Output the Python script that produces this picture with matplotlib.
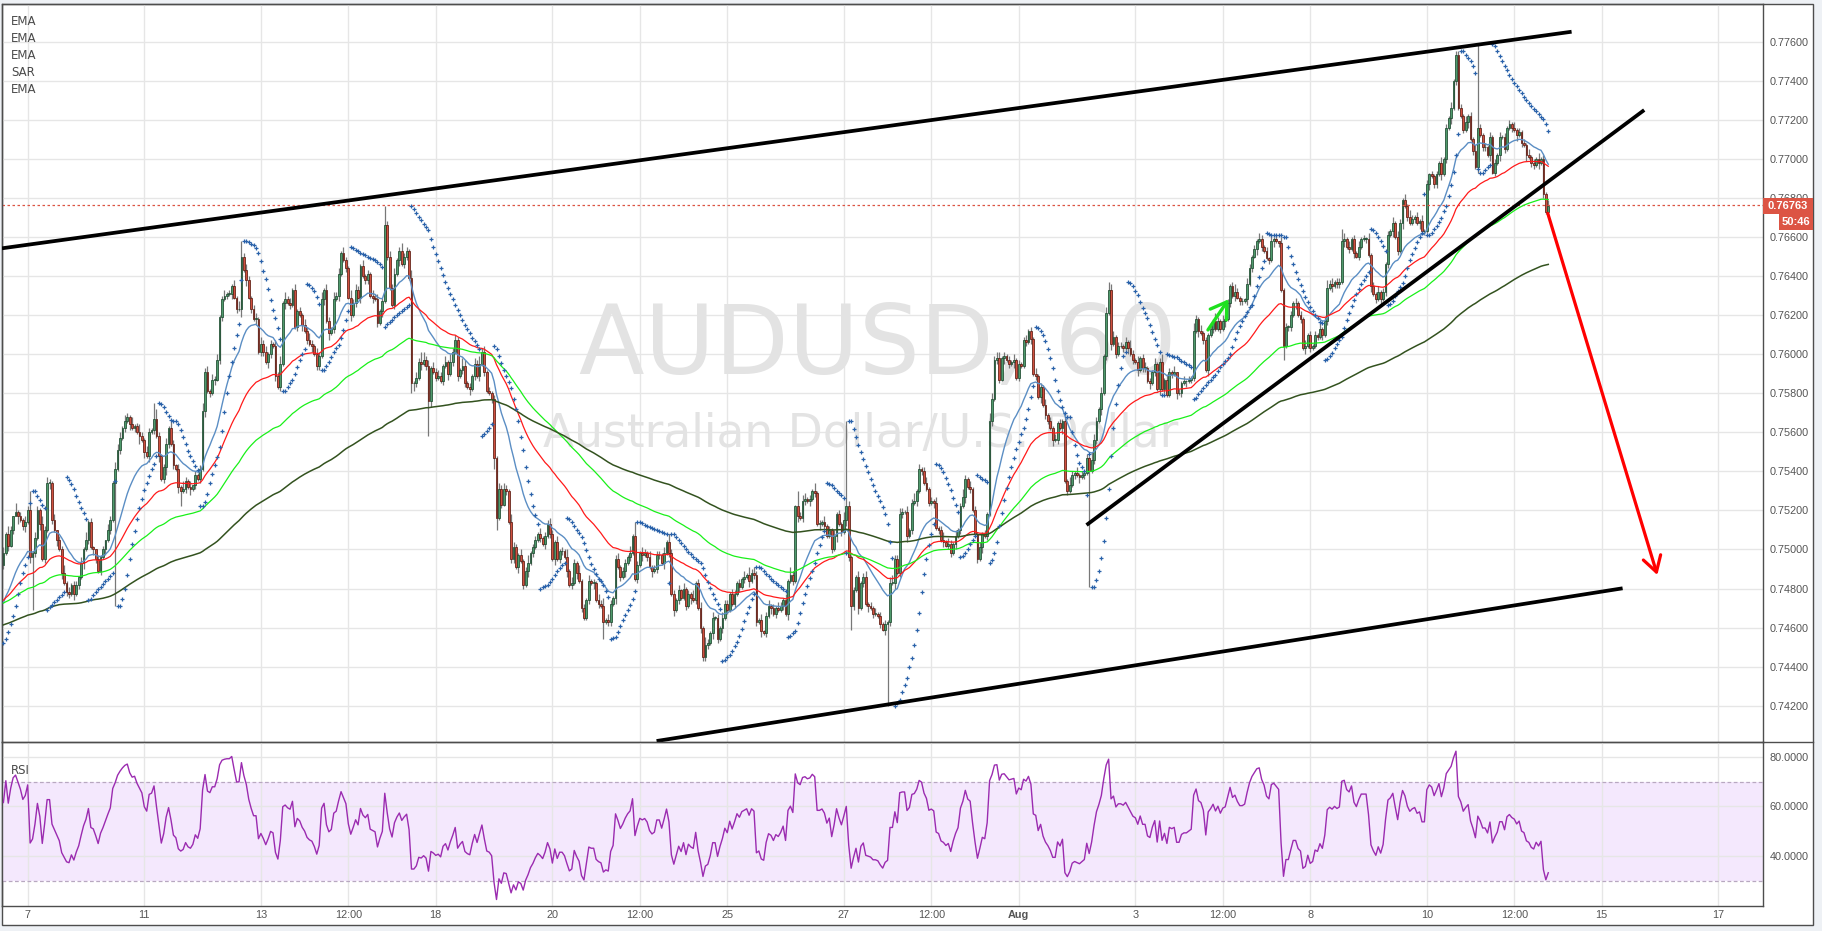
import numpy as np
import matplotlib
matplotlib.use("Agg")
import matplotlib.pyplot as plt
from matplotlib.patches import Rectangle
from matplotlib.lines import Line2D

# ---------------------------------------------------------------- data
# hourly AUDUSD candles, index 0 = Jul 7 00:00 (weekends removed), prices in pips
FIRST_INDEX = -10
FIRST_OPEN = 7492
CLOSE_ROWS = [
    "7498 7508 7502 7510 7517 7519 7517 7515 7512 7514",  # -10
    "7520 7496 7498 7506 7520 7513 7495 7510 7534 7534",  # 0
    "7515 7510 7505 7500 7488 7483 7478 7477 7482 7477",
    "7482 7486 7493 7500 7505 7514 7501 7500 7495 7489",
    "7496 7500 7505 7510 7515 7534 7541 7551 7557 7562",
    "7566 7568 7564 7562 7563 7560 7558 7556 7550 7548",
    "7560 7561 7567 7558 7548 7536 7542 7554 7562 7554",  # 50
    "7543 7541 7532 7530 7531 7535 7532 7531 7533 7538",
    "7536 7541 7571 7591 7581 7580 7587 7587 7597 7619",
    "7628 7630 7631 7631 7635 7629 7623 7623 7650 7643",
    "7638 7629 7623 7618 7618 7601 7605 7601 7596 7600",
    "7605 7604 7589 7583 7595 7626 7628 7626 7625 7633",  # 100
    "7614 7622 7620 7615 7612 7607 7605 7604 7600 7594",
    "7599 7628 7633 7617 7611 7613 7628 7630 7641 7652",
    "7648 7644 7629 7620 7626 7633 7629 7645 7640 7638",
    "7641 7630 7629 7628 7616 7622 7627 7666 7650 7634",
    "7625 7641 7648 7653 7646 7650 7653 7639 7585 7585",  # 150
    "7588 7596 7595 7597 7594 7576 7593 7591 7588 7589",
    "7586 7594 7596 7590 7596 7601 7607 7589 7592 7594",
    "7585 7583 7582 7589 7595 7589 7595 7601 7591 7581",
    "7580 7577 7547 7516 7531 7523 7531 7530 7514 7495",
    "7501 7491 7497 7494 7482 7489 7493 7498 7501 7505",  # 200
    "7508 7506 7503 7507 7513 7508 7495 7504 7495 7499",
    "7499 7496 7489 7482 7483 7493 7488 7484 7470 7465",
    "7474 7484 7483 7483 7474 7472 7471 7463 7464 7463",
    "7472 7475 7495 7491 7486 7489 7493 7496 7498 7507",
    "7485 7492 7498 7497 7498 7496 7491 7489 7490 7497",  # 250
    "7497 7493 7498 7504 7498 7477 7469 7474 7479 7475",
    "7480 7471 7477 7475 7474 7483 7470 7460 7445 7451",
    "7452 7457 7465 7465 7454 7460 7465 7472 7469 7477",
    "7472 7477 7483 7481 7485 7486 7487 7484 7488 7487",
    "7463 7464 7458 7457 7466 7471 7470 7467 7470 7469",  # 300
    "7471 7474 7467 7484 7487 7484 7522 7517 7516 7525",
    "7526 7525 7526 7530 7529 7513 7513 7514 7512 7507",
    "7510 7500 7507 7518 7513 7509 7515 7522 7496 7471",
    "7479 7486 7470 7483 7486 7472 7471 7470 7467 7467",
    "7466 7462 7459 7462 7463 7483 7483 7495 7488 7518",  # 350
    "7519 7519 7507 7510 7524 7525 7530 7541 7540 7534",
    "7531 7524 7525 7524 7511 7510 7505 7504 7502 7503",
    "7498 7503 7507 7510 7522 7527 7536 7532 7531 7520",
    "7508 7495 7501 7508 7507 7518 7566 7577 7597 7598",
    "7587 7598 7599 7597 7595 7596 7597 7588 7595 7594",  # 400
    "7607 7606 7612 7608 7590 7589 7578 7583 7574 7569",
    "7566 7562 7556 7556 7565 7562 7566 7535 7530 7533",
    "7538 7539 7538 7537 7538 7539 7547 7540 7546 7556",
    "7566 7572 7580 7599 7621 7633 7605 7609 7600 7604",
    "7604 7603 7606 7603 7600 7597 7596 7592 7598 7593",  # 450
    "7593 7586 7585 7591 7595 7582 7596 7582 7587 7579",
    "7591 7590 7591 7580 7580 7585 7586 7586 7587 7588",
    "7612 7618 7612 7611 7607 7592 7610 7613 7617 7613",
    "7617 7613 7617 7618 7626 7635 7630 7632 7629 7627",
    "7627 7628 7636 7644 7650 7654 7658 7659 7655 7653",  # 500
    "7649 7648 7658 7659 7658 7657 7633 7604 7614 7614",
    "7620 7626 7626 7620 7618 7603 7604 7610 7603 7604",
    "7610 7609 7613 7610 7617 7634 7636 7635 7637 7636",
    "7637 7658 7659 7655 7654 7659 7652 7650 7655 7659",
    "7659 7659 7651 7635 7631 7628 7632 7628 7632 7646",  # 550
    "7661 7663 7667 7660 7653 7667 7679 7676 7670 7667",
    "7669 7670 7667 7668 7663 7663 7687 7692 7691 7687",
    "7692 7698 7692 7700 7716 7721 7726 7740 7753 7726",
    "7722 7715 7719 7722 7710 7704 7696 7716 7712 7706",
    "7706 7702 7711 7693 7698 7702 7711 7711 7705 7716",  # 600
    "7718 7716 7715 7712 7714 7708 7707 7702 7701 7698",
    "7697 7700 7698 7700 7682 7673 7676",                 # 620
]
# wick lengths in pips (base-36 digit per candle), same row layout as closes
UPPER_WICK_ROWS = [
    "3142051213", "2a13214232", "1302241312", "2031412102", "1203214331",
    "3214124213", "2185212314", "2131421302", "1242313231", "2312131482",
    "3212314231", "2132414231", "3121324213", "2413214231", "3214232131",
    "2132312a23", "2312422141", "3254231323", "2131423214", "3121324231",
    "2121323214", "3213124122", "1312232131", "2141321412", "1312132413",
    "2123122141", "7213213122", "2131422131", "3121412314", "2131213221",
    "3212131423", "2131231213", "2131421823", "3121412131", "2131214331",
    "2131231213", "1212134223", "2131241312", "3121312413", "2131242131",
    "2131214323", "3121213121", "2312131213", "1213121214", "2131212143",
    "2131343312", "2131421312", "3121312413", "2130213121", "4213121314",
    "2131212421", "2132121321", "2131203121", "2131213121", "2131242312",
    "2631312131", "2131213121", "2131321314", "2131312121", "2131213122",
    "2131213121", "2131213121", "2131212131", "2131213",
]
LOWER_WICK_ROWS = [
    "2131204123", "13r2131213", "2131312213", "1213121321", "2131213121",
    "2131214131", "3121312421", "2138121312", "1213121312", "2121312141",
    "3121312213", "2131213121", "1213121312", "2131412131", "1213121312",
    "2131213121", "1213122154", "21312i3121", "1213121312", "2131213121",
    "1266121212", "2131213121", "1213121312", "2131213121", "1213121912",
    "2131213121", "1213121312", "2131213121", "1213121322", "2131213121",
    "1213121312", "2131213121", "1213121312", "2131213121", "121312132c",
    "2131213121", "1213121312", "2131213121", "1213121312", "2131213121",
    "1213121312", "2131213121", "1213121312", "2131213121", "1213121312",
    "2131213121", "1213121312", "2131213121", "1213121312", "2131213121",
    "1213121312", "2131213121", "1213121712", "2131213121", "1213121312",
    "2131213121", "1213121312", "2131213121", "1213121312", "2131213121",
    "1213121312", "2131213121", "1213121312", "2131213",
]
HIGH_FIX = {147: 7676, 337: 7566, 597: 7759}
LOW_FIX = {36: 7471, 354: 7420, 437: 7481}

# indicator settings / starting values read at the left edge (pips)
EMA_SPECS = [(20, 7470, "#5b8ec4", 1.0),
             (50, 7473, "#ff1a1a", 0.9),
             (100, 7472, "#19f019", 0.9),
             (200, 7461, "#33521f", 1.1)]
SAR_SEED = (7452, 7508, 0.04, True)     # sar, extreme point, accel, uptrend
RSI_SEED = (1.6, 1.0)                   # avg gain, avg loss

TICK_POS = [0, 48, 96, 132, 168, 216, 252, 288, 336, 372, 408, 456, 492, 528, 576, 612, 648, 696]
TICK_LABELS = ["7", "11", "13", "12:00", "18", "20", "12:00", "25", "27", "12:00",
               "Aug", "3", "12:00", "8", "10", "12:00", "15", "17"]
PRICE_TICKS = [0.742, 0.744, 0.746, 0.748, 0.750, 0.752, 0.754, 0.756, 0.758,
               0.760, 0.762, 0.764, 0.766, 0.768, 0.770, 0.772, 0.774, 0.776]
RSI_TICKS = [40, 60, 80]
LAST_PRICE = 0.76763
COUNTDOWN = "50:46"

UPPER_CHANNEL = [(-10.6, 0.76542), (635.6, 0.77651)]
LOWER_CHANNEL = [(258.9, 0.74019), (656.6, 0.74801)]
SUPPORT_LINE = [(435.9, 0.75125), (665.5, 0.77250)]
RED_ARROW = [(625.8, 0.76721), (670.9, 0.74869)]
GREEN_ARROW = [(485.9, 0.76124), (494.4, 0.76281)]
LEGEND_NAMES = ["EMA", "EMA", "EMA", "SAR", "EMA"]

# ---------------------------------------------------------------- build series
closes = np.array([int(v) for row in CLOSE_ROWS for v in row.split()], dtype=float)
n = len(closes)
idx = np.arange(FIRST_INDEX, FIRST_INDEX + n)
opens = np.empty(n)
opens[0] = FIRST_OPEN
opens[1:] = closes[:-1]
uw = np.array([int(ch, 36) for ch in "".join(UPPER_WICK_ROWS)], dtype=float)[:n]
lw = np.array([int(ch, 36) for ch in "".join(LOWER_WICK_ROWS)], dtype=float)[:n]
highs = np.maximum(opens, closes) + uw
lows = np.minimum(opens, closes) - lw
for k, v in HIGH_FIX.items():
    highs[k - FIRST_INDEX] = v
for k, v in LOW_FIX.items():
    lows[k - FIRST_INDEX] = v


def ema(vals, length, seed):
    a = 2.0 / (length + 1)
    out = np.empty(len(vals))
    prev = seed
    for k, v in enumerate(vals):
        prev = prev + a * (v - prev)
        out[k] = prev
    return out


def psar(hi, lo, seed, step=0.02, amax=0.2):
    sar, ep, af, up = seed
    out = np.empty(len(hi))
    for k in range(len(hi)):
        if k > 0:
            sar = sar + af * (ep - sar)
            if up:
                sar = min(sar, lo[k - 1], lo[max(k - 2, 0)])
                if lo[k] < sar:
                    up, sar, ep, af = False, ep, lo[k], step
                elif hi[k] > ep:
                    ep, af = hi[k], min(af + step, amax)
            else:
                sar = max(sar, hi[k - 1], hi[max(k - 2, 0)])
                if hi[k] > sar:
                    up, sar, ep, af = True, ep, hi[k], step
                elif lo[k] < ep:
                    ep, af = lo[k], min(af + step, amax)
        out[k] = sar
    return out


def rsi(vals, seed, length=14):
    g, l = seed
    out = np.empty(len(vals))
    out[0] = 100 - 100 / (1 + g / l)
    for k in range(1, len(vals)):
        d = vals[k] - vals[k - 1]
        g = (g * (length - 1) + max(d, 0)) / length
        l = (l * (length - 1) + max(-d, 0)) / length
        out[k] = 100 - 100 / (1 + g / l) if l > 0 else 100
    return out


P = 1e-4
sar_vals = psar(highs, lows, SAR_SEED)
rsi_vals = rsi(closes, RSI_SEED)

# ---------------------------------------------------------------- figure
W, H = 1822, 931
plt.rcParams["font.family"] = ["Liberation Sans", "DejaVu Sans"]
fig = plt.figure(figsize=(W / 100, H / 100), dpi=100)
fig.patch.set_facecolor("#eef1f5")


def fx(px):
    return px / W


def fy(py):
    return 1 - py / H


fig.add_artist(Rectangle((fx(2), fy(925)), (1813 - 2) / W, (925 - 4) / H,
                         transform=fig.transFigure, facecolor="white",
                         edgecolor="#4d4d4d", lw=1.0, zorder=-5))
fig.add_artist(Line2D([fx(1763), fx(1813)], [fy(742), fy(742)],
                      transform=fig.transFigure, color="#4d4d4d", lw=1.0, zorder=5))

ax = fig.add_axes([fx(2), fy(742), (1763 - 2) / W, (742 - 4) / H])
axr = fig.add_axes([fx(2), fy(906), (1763 - 2) / W, (906 - 742) / H])
XLIM = (-10.58, 714.4)
for a in (ax, axr):
    a.set_xlim(*XLIM)
    a.set_facecolor("none")
    for s in a.spines.values():
        s.set_color("#4d4d4d")
        s.set_linewidth(1.0)
    a.set_axisbelow(True)
    a.grid(True, color="#e6e6e6", lw=1.0)
    a.set_xticks(TICK_POS)
    a.yaxis.tick_right()
    a.tick_params(length=0, labelsize=7.8, labelcolor="#555555")

ax.set_ylim(0.74014, 0.77793)
ax.set_yticks(PRICE_TICKS)
ax.set_yticklabels([f"{v:.5f}" for v in PRICE_TICKS])
ax.tick_params(axis="y", pad=5)
ax.set_xticklabels([])

# watermark
ax.text(0.4975, 0.4986, "AUDUSD, 60", transform=ax.transAxes, ha="center", va="baseline",
        fontsize=69, color="#e3e3e3", family="DejaVu Sans", zorder=0.6)
ax.text(0.4875, 0.4001, "Australian Dollar/U.S. Dollar", transform=ax.transAxes,
        ha="center", va="baseline", fontsize=32.8, color="#e3e3e3",
        family="DejaVu Sans", zorder=0.6)

# candles
up = closes >= opens
ax.vlines(idx, lows * P, highs * P, color="#787878", lw=0.9, zorder=2)
body_lo = np.minimum(opens, closes) * P
body_h = np.maximum(np.abs(closes - opens), 0.3) * P
ax.bar(idx, body_h, bottom=body_lo, width=0.74,
       color=["#4f9a6c" if u else "#d0503f" for u in up],
       edgecolor=["#1d4a2f" if u else "#5c1c12" for u in up],
       linewidth=0.55, zorder=2.1)

# EMAs
for length, seed, col, lwid in EMA_SPECS:
    ax.plot(idx, ema(closes, length, seed) * P, color=col, lw=lwid, zorder=3)

# SAR
ax.plot(idx, sar_vals * P, ls="none", marker="+", ms=3.0, mew=0.9,
        color="#2a62aa", zorder=3.5)

# last price line
ax.axhline(LAST_PRICE, color="#dc5444", lw=0.9, ls=(0, (2, 2)), zorder=2.5)

# drawings
for (x0, y0), (x1, y1) in (UPPER_CHANNEL, LOWER_CHANNEL, SUPPORT_LINE):
    ax.plot([x0, x1], [y0, y1], color="black", lw=2.7, solid_capstyle="butt", zorder=6)
ax.annotate("", xy=RED_ARROW[1], xytext=RED_ARROW[0],
            arrowprops=dict(arrowstyle="->,head_length=1.1,head_width=0.65",
                            color="#ff0000", lw=2.3, shrinkA=0, shrinkB=0,
                            mutation_scale=10), zorder=7)
ax.annotate("", xy=GREEN_ARROW[1], xytext=GREEN_ARROW[0],
            arrowprops=dict(arrowstyle="->,head_length=1.1,head_width=0.7",
                            color="#1fe01f", lw=2.4, shrinkA=0, shrinkB=0,
                            mutation_scale=10), zorder=7)

# RSI pane
axr.set_ylim(19.9, 85.9)
axr.set_yticks(RSI_TICKS)
axr.set_yticklabels([f"{v:.4f}" for v in RSI_TICKS])
axr.tick_params(axis="y", pad=5)
axr.axhspan(30, 70, color="#f4e8fd", zorder=0.3, lw=0)
for lvl in (30, 70):
    axr.axhline(lvl, color="#b8a8c0", lw=0.9, ls=(0, (3, 2)), zorder=1)
axr.plot(idx, rsi_vals, color="#9b2bb0", lw=1.0, zorder=3)
axr.set_xticklabels(TICK_LABELS)
axr.tick_params(axis="x", pad=3)
for lab in axr.get_xticklabels():
    if lab.get_text() == "Aug":
        lab.set_fontweight("bold")

# legends
for k, name in enumerate(LEGEND_NAMES):
    fig.text(fx(11), fy(21.7 + 17 * k), name, fontsize=8.5, color="#4a4a4a",
             ha="left", va="center", family="DejaVu Sans")
fig.text(fx(11), fy(770), "RSI", fontsize=8.5, color="#4a4a4a", ha="left", va="center",
         family="DejaVu Sans")

# price / countdown boxes on price scale
fig.add_artist(Rectangle((fx(1763), fy(213.5)), 50 / W, 15.8 / H, transform=fig.transFigure,
                         facecolor="#dc5444", edgecolor="none", zorder=10))
fig.text(fx(1788), fy(205.6), f"{LAST_PRICE:.5f}", color="white", fontsize=8, fontweight="bold",
         ha="center", va="center", zorder=11)
fig.add_artist(Rectangle((fx(1779), fy(230)), 34 / W, 15.7 / H, transform=fig.transFigure,
                         facecolor="#dc5444", edgecolor="none", zorder=10))
fig.text(fx(1796), fy(222.2), COUNTDOWN, color="white", fontsize=8, fontweight="bold",
         ha="center", va="center", zorder=11)

fig.savefig("out.png", dpi=100, facecolor=fig.get_facecolor())
